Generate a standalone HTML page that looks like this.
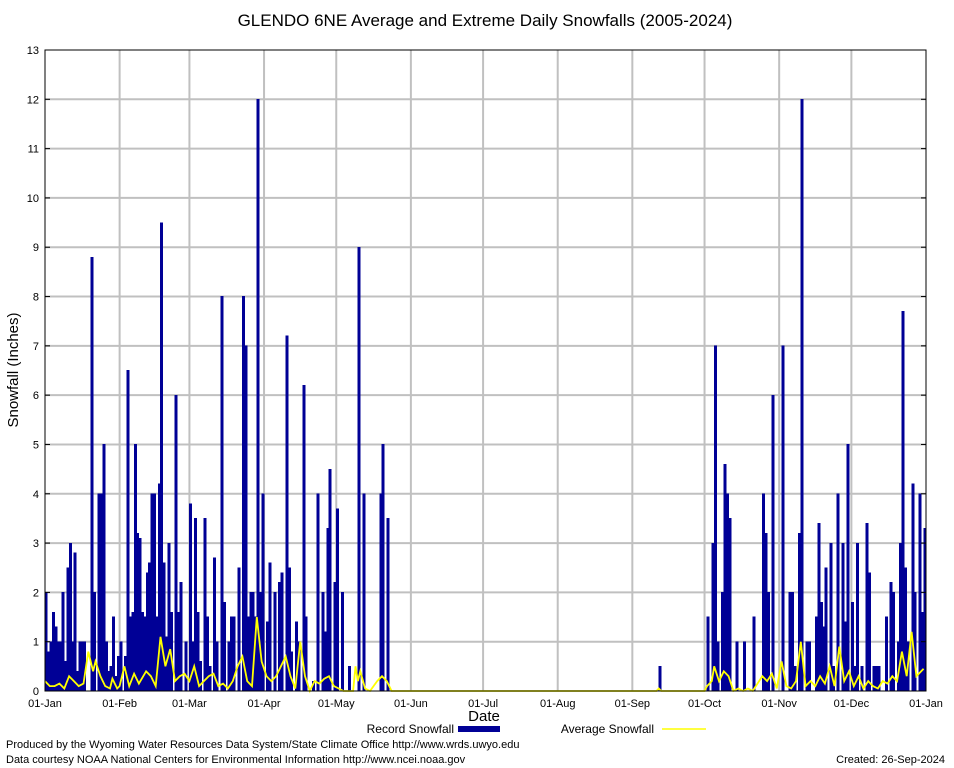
<!DOCTYPE html>
<html><head><meta charset="utf-8"><style>
body{margin:0;background:#fff;}
svg{display:block;font-family:"Liberation Sans",sans-serif;}
</style></head><body>
<svg id="c" width="954" height="768">
<rect width="954" height="768" fill="#fff"/>
<text x="485" y="26" font-size="17" text-anchor="middle">GLENDO 6NE Average and Extreme Daily Snowfalls (2005-2024)</text>
<text transform="translate(18,370) rotate(-90)" font-size="15" text-anchor="middle">Snowfall (Inches)</text>
<text x="484" y="721" font-size="15" text-anchor="middle">Date</text>
<g id="grid"></g><g id="bars"></g><g id="avg"></g><g id="axes"></g>
<g>
<text x="454" y="733" font-size="12" text-anchor="end">Record Snowfall</text>
<rect x="458" y="726" width="42" height="6" fill="#000096"/>
<text x="654" y="733" font-size="12" text-anchor="end">Average Snowfall</text>
<line x1="662" y1="729" x2="706" y2="729" stroke="#ffff00" stroke-width="1.5"/>
</g>
<text x="6" y="748" font-size="11">Produced by the Wyoming Water Resources Data System/State Climate Office http://www.wrds.uwyo.edu</text>
<text x="6" y="763" font-size="11">Data courtesy NOAA National Centers for Environmental Information http://www.ncei.noaa.gov</text>
<text x="945" y="763" font-size="11" text-anchor="end">Created:  26-Sep-2024</text>
</svg>
<script>
const recordDays=[0,1,2,3,4,5,6,7,8,9,10,11,12,13,14,15,16,19,20,22,23,24,25,26,27,28,29,30,31,33,34,35,36,37,38,39,40,41,42,43,44,45,46,47,48,49,50,51,52,54,55,56,58,60,61,62,63,64,66,67,68,70,71,73,74,76,77,78,80,82,83,84,85,86,87,88,89,90,92,93,95,97,98,100,101,102,104,105,107,108,111,113,115,116,117,118,120,121,123,126,130,132,139,140,142,255,275,277,278,279,281,282,283,284,287,290,294,298,299,300,302,306,309,310,311,313,314,316,317,320,321,322,323,324,326,327,329,331,332,333,335,336,337,339,341,342,344,345,346,349,351,352,354,355,356,357,358,360,361,363,364,365];
const recordVals=[2.0,0.8,1.0,1.6,1.3,1.0,1.0,2.0,0.6,2.5,3.0,1.0,2.8,0.4,1.0,1.0,1.0,8.8,2.0,4.0,4.0,5.0,1.0,0.4,0.5,1.5,0.3,0.7,1.0,0.7,6.5,1.5,1.6,5.0,3.2,3.1,1.6,1.5,2.4,2.6,4.0,4.0,1.5,4.2,9.5,2.6,1.1,3.0,1.6,6.0,1.6,2.2,1.0,3.8,1.0,3.5,1.6,0.6,3.5,1.5,0.5,2.7,1.0,8.0,1.8,1.0,1.5,1.5,2.5,8.0,7.0,1.5,2.0,2.0,1.5,12.0,2.0,4.0,1.4,2.6,2.0,2.2,2.4,7.2,2.5,0.8,1.4,1.0,6.2,1.5,0.2,4.0,2.0,1.2,3.3,4.5,2.2,3.7,2.0,0.5,9.0,4.0,4.0,5.0,3.5,0.5,1.5,3.0,7.0,1.0,2.0,4.6,4.0,3.5,1.0,1.0,1.5,4.0,3.2,2.0,6.0,7.0,2.0,2.0,0.5,3.2,12.0,1.0,1.0,1.5,3.4,1.8,1.3,2.5,3.0,0.5,4.0,3.0,1.4,5.0,1.8,0.5,3.0,0.5,3.4,2.4,0.5,0.5,0.5,1.5,2.2,2.0,1.0,3.0,7.7,2.5,1.0,4.2,2.0,4.0,1.6,3.3];
const avgDays=[0,2,4,6,8,10,12,14,16,18,20,21,23,25,27,28,30,31,33,35,37,39,42,44,46,48,50,52,54,56,58,60,62,64,66,68,70,72,74,76,78,80,82,84,86,88,90,92,94,96,98,100,102,104,106,108,110,112,114,116,118,120,122,124,128,129,130,131,133,135,138,140,142,144,254,255,256,274,275,277,278,280,282,284,286,288,290,292,294,298,300,302,304,306,308,310,312,314,316,318,320,322,324,326,328,330,332,334,336,338,340,342,344,346,348,350,352,354,356,358,360,362,364,365];
const avgVals=[0.2,0.1,0.1,0.15,0.05,0.3,0.2,0.1,0.15,0.8,0.4,0.6,0.3,0.1,0.05,0.25,0.05,0.1,0.5,0.1,0.35,0.15,0.4,0.3,0.1,1.1,0.5,0.85,0.2,0.3,0.35,0.2,0.5,0.1,0.2,0.3,0.35,0.1,0.15,0.05,0.2,0.5,0.7,0.2,0.1,1.5,0.6,0.3,0.2,0.3,0.5,0.7,0.3,0.05,1.0,0.3,0,0.2,0.15,0.25,0.3,0.1,0.05,0,0,0.5,0.2,0.4,0.05,0,0.2,0.3,0.2,0,0,0.05,0,0,0.1,0.2,0.5,0.2,0.4,0.3,0,0.05,0,0.05,0,0.3,0.2,0.35,0.05,0.6,0.1,0.05,0.2,1.0,0.1,0.2,0.1,0.3,0.15,0.5,0.1,0.9,0.2,0.4,0.1,0.3,0.05,0.2,0.1,0.05,0.2,0.15,0.3,0.2,0.8,0.3,1.2,0.3,0.4,0.45];
const yTicks=[0,1,2,3,4,5,6,7,8,9,10,11,12,13];
const monthLabels=["01-Jan","01-Feb","01-Mar","01-Apr","01-May","01-Jun","01-Jul","01-Aug","01-Sep","01-Oct","01-Nov","01-Dec","01-Jan"];
const monthStarts=[0,31,60,91,121,152,182,213,244,274,305,335,366];

const NS="http://www.w3.org/2000/svg";
const X0=45,X1=926,Y0=691,Y1=50,NDAYS=366,YMAX=13;
const xs=d=>X0+d*(X1-X0)/NDAYS;
const ys=v=>Y0-v*(Y0-Y1)/YMAX;
function mk(tag,attrs,parent){const e=document.createElementNS(NS,tag);for(const k in attrs)e.setAttribute(k,attrs[k]);parent.appendChild(e);return e;}
const grid=document.getElementById('grid'),bars=document.getElementById('bars'),avg=document.getElementById('avg'),axes=document.getElementById('axes');
yTicks.forEach(t=>{
  if(t>0&&t<YMAX){const g=mk('line',{x1:X0,x2:X1,y1:ys(t),y2:ys(t),stroke:'#c0c0c0','stroke-width':2},grid);
  
  }
  const l=mk('text',{x:X0-6,y:ys(t)+4,'font-size':11,'text-anchor':'end'},axes);l.textContent=t;
  
  
  mk('line',{x1:X0,x2:X0+5,y1:ys(t),y2:ys(t),stroke:'#000'},axes);
  mk('line',{x1:X1,x2:X1-5,y1:ys(t),y2:ys(t),stroke:'#000'},axes);
});
monthStarts.forEach((d,i)=>{
  if(i>0&&i<12){const g=mk('line',{x1:xs(d),x2:xs(d),y1:Y0,y2:Y1,stroke:'#c0c0c0','stroke-width':2},grid);
  
  }
  const l=mk('text',{x:xs(d),y:Y0+16,'font-size':11,'text-anchor':'middle'},axes);l.textContent=monthLabels[i];
  
  
});
recordDays.forEach((d,i)=>{
  const b=mk('rect',{x:xs(d),y:ys(recordVals[i]),width:(X1-X0)/NDAYS,height:Y0-ys(recordVals[i]),fill:'#000096',stroke:'#000096','stroke-width':0.6,'shape-rendering':'crispEdges'},bars);
  
  
});
let pts=avgDays.map((d,i)=>xs(d).toFixed(1)+','+ys(avgVals[i]).toFixed(1)).join(' ');
const pl=mk('polyline',{points:pts,fill:'none',stroke:'#ffff00','stroke-width':1.8},avg);


const fr=mk('rect',{x:X0,y:Y1,width:X1-X0,height:Y0-Y1,fill:'none',stroke:'#000'},axes);


</script>
</body></html>
